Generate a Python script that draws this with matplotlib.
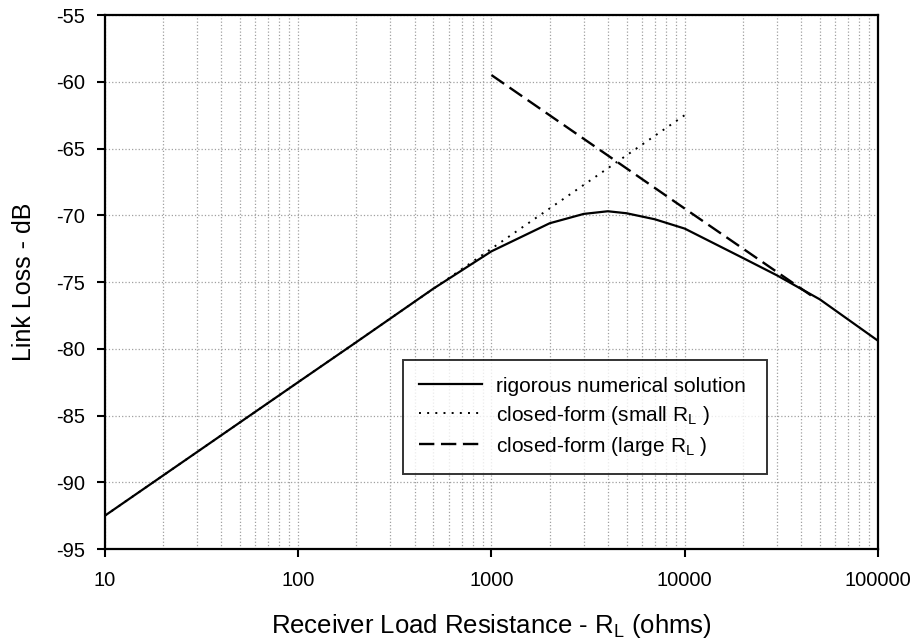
import matplotlib
matplotlib.use("Agg")
import matplotlib.pyplot as plt
from matplotlib.ticker import FixedLocator, FixedFormatter, NullFormatter, LogLocator

plt.rcParams['font.family'] = ['Liberation Sans', 'DejaVu Sans']
plt.rcParams['mathtext.default'] = 'regular'

# rigorous numerical solution
r_num = [10, 100, 200, 500, 1000, 2000, 3000, 4000, 5000, 7000, 10000, 20000, 30000, 50000, 100000]
loss_num = [-92.5, -82.5, -79.5, -75.5, -72.7, -70.6, -69.9, -69.7, -69.85, -70.3, -71.0, -73.2, -74.5, -76.3, -79.4]

# closed-form, small R_L
r_small = [10, 10000]
loss_small = [-92.5, -62.5]

# closed-form, large R_L
r_large = [1000, 10000, 45000]
loss_large = [-59.5, -69.5, -76.0]

x_ticks = [10, 100, 1000, 10000, 100000]
x_labels = ['10', '100', '1000', '10000', '100000']
y_ticks = [-95, -90, -85, -80, -75, -70, -65, -60, -55]

fig = plt.figure(figsize=(9.16, 6.44), dpi=100)
ax = fig.add_axes([0.1146, 0.1475, 0.8439, 0.8292])

ax.plot(r_num, loss_num, color='black', lw=1.6, label='rigorous numerical solution', zorder=4)
ax.plot(r_small, loss_small, color='black', lw=1.4, linestyle=(0, (1, 3.2)),
        label='closed-form (small R$_{L}$ )', zorder=3)
ax.plot(r_large, loss_large, color='black', lw=1.7, linestyle=(0, (6.5, 2.8)),
        label='closed-form (large R$_{L}$ )', zorder=3)

ax.set_xscale('log')
ax.set_xlim(10, 100000)
ax.set_ylim(-95, -55)

ax.xaxis.set_major_locator(FixedLocator(x_ticks))
ax.xaxis.set_major_formatter(FixedFormatter(x_labels))
ax.xaxis.set_minor_locator(LogLocator(base=10, subs=range(2, 10)))
ax.xaxis.set_minor_formatter(NullFormatter())
ax.set_yticks(y_ticks)
ax.set_yticklabels([str(v) for v in y_ticks])

ax.tick_params(axis='both', which='major', direction='out', length=5.5, width=1.5,
               labelsize=14.5, colors='black')
ax.tick_params(axis='x', which='major', pad=10)
ax.tick_params(axis='y', which='major', pad=9)
ax.tick_params(axis='x', which='minor', length=0)
ax.tick_params(top=False, right=False)

ax.grid(True, which='both', axis='x', color='#a0a0a0', linestyle=':', lw=0.9)
ax.grid(True, which='major', axis='y', color='#a0a0a0', linestyle=':', lw=0.9)
ax.set_axisbelow(True)

for s in ax.spines.values():
    s.set_linewidth(1.6)
    s.set_color('black')

ax.set_xlabel('Receiver Load Resistance - R$_{L}$ (ohms)', fontsize=18.5, labelpad=16)
ax.set_ylabel('Link Loss - dB', fontsize=18, labelpad=14)

leg = ax.legend(loc='lower left', bbox_to_anchor=(0.385, 0.14, 0.472, 0.225), mode='expand',
                fontsize=15, frameon=True, fancybox=False, handlelength=3.0,
                handletextpad=0.7, labelspacing=0.38, borderpad=0.8, borderaxespad=0)
leg.get_frame().set_edgecolor('black')
leg.get_frame().set_linewidth(1.4)

fig.savefig('out.png', dpi=100)
